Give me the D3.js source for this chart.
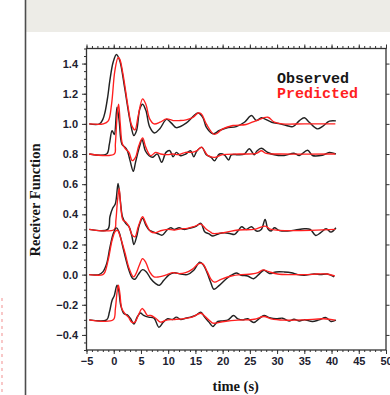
<!DOCTYPE html>
<html>
<head>
<meta charset="utf-8">
<script src="https://cdn.jsdelivr.net/npm/d3@7"></script>
<style>
  body { margin: 0; background: #fff; }
  svg { display: block; }
</style>
</head>
<body>
<div id="chart"></div>
<script>
// receiver functions, observed vs predicted, five stacked traces
const offsets = [1.0, 0.8, 0.3, 0.0, -0.3];
const xTicks = [-5, 0, 5, 10, 15, 20, 25, 30, 35, 40, 45, 50];
const yTicks = [-0.4, -0.2, 0.0, 0.2, 0.4, 0.6, 0.8, 1.0, 1.2, 1.4];
const legendLabels = ['Observed', 'Predicted'];

// [time (s), amplitude above the trace baseline]
const obs1 = [[-4.5,0],[-2.6,0],[-2.0,0.03],[-1.6,0.077],[-1.1,0.18],[-0.7,0.29],[-0.1,0.41],[0.5,0.46],[1.1,0.42],[2.0,0.24],[3.0,0.02],[3.7,-0.077],[4.2,-0.044],[4.8,0.10],[5.3,0.13],[5.9,0.09],[6.6,-0.02],[7.5,-0.06],[8.5,-0.03],[9.7,0.03],[10.6,0.005],[11.5,-0.025],[13.3,0.005],[14.6,0.05],[15.5,0.072],[16.4,0.04],[17.0,-0.022],[18.2,-0.066],[19.4,-0.044],[20.7,-0.027],[22.5,-0.018],[24.0,0.011],[25.3,0.055],[26.2,0.022],[27.1,0.04],[27.7,0.033],[29.0,0.011],[30.5,0],[31.7,-0.011],[32.9,-0.018],[34.1,0.022],[35.0,0.04],[35.9,0.011],[37.4,-0.033],[38.3,-0.018],[39.6,0.018],[40.8,0.02]];
const pred1 = [[-4.5,0],[-1.9,0],[-1.0,0.02],[-0.4,0.13],[0.2,0.35],[0.8,0.44],[1.1,0.43],[1.7,0.33],[2.6,0.12],[3.3,-0.01],[3.9,-0.04],[4.5,0.055],[5.3,0.166],[5.9,0.13],[6.6,0.033],[7.4,0],[8.5,0.011],[9.7,0.033],[10.9,0.022],[12.1,0.022],[13.3,0.027],[14.6,0.044],[15.5,0.072],[16.1,0.066],[17.0,0],[18.5,-0.07],[20.0,-0.033],[21.9,-0.011],[24.3,-0.004],[26.2,0.022],[28.3,0.044],[29.5,0.011],[31.0,0],[35.0,0],[40.7,0]];

const obs2 = [[-4.5,0],[-1.3,0],[-0.8,0.066],[-0.3,0.155],[0.1,0.13],[0.6,0.31],[1.0,0.22],[1.5,0.066],[2.1,0.044],[2.5,0.022],[3.0,-0.044],[3.6,-0.115],[4.0,-0.055],[4.7,0.044],[5.2,0.095],[5.8,0.022],[6.5,-0.011],[7.1,-0.022],[8.0,0],[8.8,-0.055],[9.6,0.011],[10.3,0.022],[10.9,-0.018],[11.5,0.011],[12.3,-0.011],[13.2,0],[14.1,0.022],[14.7,-0.018],[15.3,0.022],[16.2,0.044],[17.0,-0.005],[17.9,-0.022],[18.5,-0.045],[19.4,0],[20.3,-0.005],[21.1,-0.04],[21.6,-0.005],[22.8,-0.005],[24.0,0],[24.9,0.035],[25.8,-0.005],[26.3,0.02],[27.1,0.038],[28.3,0.01],[29.5,-0.005],[31.3,-0.01],[33.1,0.005],[34.1,-0.01],[35.6,0.025],[36.5,-0.01],[38.3,-0.008],[39.6,0.01],[40.8,0]];
const pred2 = [[-4.5,0],[0.1,0],[0.3,0.066],[0.7,0.29],[0.9,0.33],[1.2,0.2],[1.6,0.066],[2.2,0.033],[2.8,0.011],[3.4,-0.044],[4.0,-0.022],[4.6,0.055],[5.3,0.106],[5.9,0.044],[6.8,-0.011],[7.7,0.011],[8.6,0],[9.9,-0.004],[10.8,0],[12.0,-0.004],[13.2,0.011],[14.4,0.011],[15.3,0.022],[16.1,0.046],[17.3,-0.011],[18.5,-0.022],[20.0,-0.004],[23.1,0],[26.2,0.004],[27.1,0.022],[28.0,0.004],[30.5,0],[40.7,0]];

const obs3 = [[-4.5,0],[-1.1,0],[-0.7,0.084],[-0.2,0.14],[0.3,0.17],[0.8,0.305],[1.2,0.195],[1.6,0.084],[2.2,0.04],[2.8,0.018],[3.3,-0.038],[3.7,-0.10],[4.2,-0.049],[4.7,0.029],[5.3,0.073],[5.9,0.029],[6.5,-0.004],[7.1,-0.015],[8.0,-0.027],[8.9,-0.038],[9.9,0],[10.5,0.011],[11.1,0],[12.0,0.011],[12.9,0],[13.8,0.007],[15.0,0.018],[16.0,0.04],[16.7,-0.015],[17.5,-0.03],[18.2,-0.044],[19.4,-0.027],[20.3,-0.022],[21.3,-0.027],[22.2,-0.033],[22.8,-0.011],[23.5,0.018],[24.3,0],[25.3,0.018],[26.2,-0.011],[27.1,0],[27.8,0.066],[28.3,0.004],[28.9,-0.011],[29.5,0.011],[30.4,-0.007],[31.9,-0.011],[33.4,-0.004],[35.0,0.004],[36.1,0],[37.1,-0.04],[38.0,-0.022],[39.0,0.004],[39.9,-0.018],[40.8,0.011]];
const pred3 = [[-4.5,0],[0.1,0],[0.4,0.062],[0.7,0.195],[1.0,0.27],[1.3,0.15],[1.7,0.062],[2.2,0.05],[2.8,0.018],[3.4,-0.038],[3.9,-0.049],[4.5,0.018],[5.3,0.084],[5.9,0.04],[6.8,-0.015],[7.7,-0.022],[8.6,-0.009],[9.9,0],[11.1,-0.004],[12.3,0.004],[13.5,0.007],[14.7,0.018],[16.0,0.035],[16.9,0.004],[17.8,-0.018],[18.2,-0.027],[20.2,-0.022],[22.8,-0.004],[25.8,0],[27.8,0.022],[28.9,0],[40.7,0]];

const obs4 = [[-4.5,0],[-2.7,0],[-2.0,0.018],[-1.3,0.073],[-0.7,0.18],[-0.1,0.27],[0.5,0.31],[1.0,0.28],[1.6,0.195],[2.2,0.106],[2.8,0.029],[3.4,-0.022],[3.9,-0.031],[4.5,0],[5.3,0.033],[6.0,0.018],[6.8,-0.027],[7.7,-0.06],[8.4,-0.071],[9.2,-0.038],[10.2,0],[11.1,0.013],[12.3,0.004],[13.5,0],[14.7,0.029],[15.8,0.083],[16.5,0.062],[17.2,0.007],[17.8,-0.05],[18.4,-0.097],[19.4,-0.071],[20.7,-0.027],[21.6,-0.004],[22.5,0.011],[23.4,-0.004],[24.6,-0.009],[25.7,-0.027],[26.8,0.007],[27.6,0.029],[28.6,0.007],[29.8,0.018],[31.3,0.018],[32.6,0.013],[33.8,0],[35.0,-0.004],[36.8,0.004],[38.0,0],[39.2,0.004],[40.5,-0.015]];
const pred4 = [[-4.5,0],[-2.0,0],[-1.6,0.018],[-0.9,0.117],[-0.3,0.228],[0.3,0.288],[0.7,0.294],[1.3,0.24],[2.1,0.14],[2.8,0.044],[3.6,-0.015],[4.0,0],[4.7,0.062],[5.3,0.106],[5.9,0.08],[6.6,0.018],[7.4,-0.015],[8.3,-0.015],[9.5,-0.004],[10.8,0.013],[12.0,0.007],[13.2,0.013],[14.4,0.035],[15.6,0.073],[16.3,0.073],[17.2,0.018],[17.8,-0.027],[18.5,-0.05],[19.7,-0.031],[21.6,-0.009],[23.4,0],[25.3,0.004],[26.5,0.013],[27.4,0.031],[28.6,0.018],[30.1,0.004],[32.6,0],[35.0,0],[37.4,0.004],[39.2,0.004],[40.6,-0.009]];

const obs5 = [[-4.5,0],[-1.3,0],[-0.8,0.05],[-0.3,0.13],[0.1,0.16],[0.6,0.23],[0.9,0.2],[1.3,0.095],[1.9,0.04],[2.5,0.033],[3.1,0.007],[3.7,-0.027],[4.3,0.018],[4.9,0.045],[5.5,0.03],[6.4,0.018],[7.4,0.011],[8.3,-0.049],[9.1,-0.015],[9.9,0.007],[10.8,0.002],[11.5,0.018],[12.3,0.002],[13.2,0.011],[14.1,0.018],[15.0,0.029],[16.0,0.05],[16.7,0.018],[17.5,-0.015],[18.2,-0.044],[19.1,-0.011],[20.0,-0.007],[21.0,0],[22.0,0.029],[22.8,0.007],[23.7,0],[24.6,0.007],[25.7,-0.018],[26.8,0.011],[27.6,0.029],[28.6,0.015],[29.8,0.007],[31.0,0.011],[32.2,-0.007],[33.1,0.004],[34.1,-0.007],[35.0,0],[36.5,-0.011],[37.7,0],[39.0,0.015],[39.9,-0.011],[40.8,-0.002]];
const pred5 = [[-4.5,0],[-0.1,0],[0.3,0.073],[0.6,0.18],[0.85,0.23],[1.1,0.183],[1.5,0.073],[2.1,0.04],[2.7,0.018],[3.3,-0.015],[3.9,-0.015],[4.5,0.029],[5.2,0.075],[5.6,0.062],[6.2,0.029],[6.8,0.029],[7.7,0.011],[8.6,-0.015],[9.5,-0.004],[10.8,0.002],[12.6,0.007],[14.4,0.018],[16.0,0.044],[16.9,0.018],[17.8,-0.011],[18.2,-0.022],[20.3,-0.011],[22.8,-0.002],[25.8,0.004],[27.6,0.022],[28.9,0.007],[31.3,-0.002],[35.0,0],[38.6,0.007],[40.7,-0.002]];

const observed = [obs1, obs2, obs3, obs4, obs5];
const predicted = [pred1, pred2, pred3, pred4, pred5];

const width = 390;
const height = 395;
const margin = { top: 48.5, right: 4, bottom: 45, left: 86.5 };

const svg = d3.select('#chart').append('svg').attr('width', width).attr('height', height);

// page bits around the figure
svg.append('rect').attr('x', 26).attr('y', 0).attr('width', width - 26).attr('height', 32).attr('fill', '#edece7');
svg.append('line').attr('x1', 25.5).attr('x2', 25.5).attr('y1', 0).attr('y2', height)
  .attr('stroke', '#4d4d4d').attr('stroke-width', 1.6);
svg.append('line').attr('x1', 2).attr('x2', 2).attr('y1', 298).attr('y2', height)
  .attr('stroke', '#f3a3a3').attr('stroke-width', 1.2).attr('stroke-dasharray', '3,4');

const x = d3.scaleLinear().domain([-5, 50]).range([margin.left, width - margin.right]);
const y = d3.scaleLinear().domain([-0.5, 1.5]).range([height - margin.bottom, margin.top]);

const fmt = d3.format('.1f');
const tickFont = (g) => g.selectAll('text')
  .attr('font-family', '"Liberation Sans", Arial, sans-serif')
  .attr('font-size', 11).attr('font-weight', 'bold').attr('fill', '#1d2130');
const tidy = (g) => {
  g.select('.domain').remove();
  g.selectAll('line').attr('stroke', '#333').attr('stroke-width', 1);
};

const bottom = height - margin.bottom;
const right = width - margin.right;
const xMinor = d3.range(-5, 51, 1);
const yMinor = d3.range(-0.5, 1.501, 0.05);

// bottom axis
svg.append('g').attr('transform', `translate(0,${bottom})`)
  .call(d3.axisBottom(x).tickValues(xMinor).tickSize(2).tickFormat('')).call(tidy);
svg.append('g').attr('transform', `translate(0,${bottom})`)
  .call(d3.axisBottom(x).tickValues(xTicks).tickSize(4).tickPadding(3).tickFormat(d3.format('d')))
  .call(tidy).call(tickFont);

// top axis
svg.append('g').attr('transform', `translate(0,${margin.top})`)
  .call(d3.axisTop(x).tickValues(xMinor).tickSize(2.5).tickFormat('')).call(tidy);
svg.append('g').attr('transform', `translate(0,${margin.top})`)
  .call(d3.axisTop(x).tickValues(xTicks).tickSize(4).tickFormat('')).call(tidy);

// left axis
svg.append('g').attr('transform', `translate(${margin.left},0)`)
  .call(d3.axisLeft(y).tickValues(yMinor).tickSize(2.5).tickFormat('')).call(tidy);
svg.append('g').attr('transform', `translate(${margin.left},0)`)
  .call(d3.axisLeft(y).tickValues(yTicks).tickSize(4.5).tickPadding(4).tickFormat(fmt))
  .call(tidy).call(tickFont);

// right axis
svg.append('g').attr('transform', `translate(${right},0)`)
  .call(d3.axisRight(y).tickValues(yTicks).tickSize(3.5).tickFormat('')).call(tidy);

// frame
svg.append('rect')
  .attr('x', margin.left).attr('y', margin.top)
  .attr('width', right - margin.left).attr('height', bottom - margin.top)
  .attr('fill', 'none').attr('stroke', '#333').attr('stroke-width', 1.3);

const line = (off) => d3.line()
  .x((d) => x(d[0]))
  .y((d) => y(off + d[1]))
  .curve(d3.curveCatmullRom.alpha(0.5));

const traces = svg.append('g');
offsets.forEach((off, i) => {
  traces.append('path').datum(observed[i]).attr('d', line(off))
    .attr('fill', 'none').attr('stroke', '#222').attr('stroke-width', 1.45).attr('stroke-linejoin', 'round');
  traces.append('path').datum(predicted[i]).attr('d', line(off))
    .attr('fill', 'none').attr('stroke', '#ff1f1f').attr('stroke-width', 1.35).attr('stroke-linejoin', 'round');
});

// legend
svg.selectAll('.legend')
  .data(legendLabels)
  .enter()
  .append('text')
  .attr('class', 'legend')
  .attr('x', 277)
  .attr('y', (d, i) => 82.5 + i * 15)
  .attr('font-family', '"Liberation Mono", "Courier New", monospace')
  .attr('font-size', 15)
  .attr('font-weight', 'bold')
  .attr('fill', (d, i) => (i === 0 ? '#161616' : '#ff1f1f'))
  .text((d) => d);

// axis titles
svg.append('text')
  .attr('x', (margin.left + right) / 2 - 0.5)
  .attr('y', 391)
  .attr('text-anchor', 'middle')
  .attr('font-family', '"Liberation Serif", "Times New Roman", serif')
  .attr('font-size', 14.5)
  .attr('font-weight', 'bold')
  .attr('fill', '#161616')
  .text('time (s)');

svg.append('text')
  .attr('transform', 'translate(39.5,200) rotate(-90)')
  .attr('text-anchor', 'middle')
  .attr('font-family', '"Liberation Serif", "Times New Roman", serif')
  .attr('font-size', 14.5)
  .attr('font-weight', 'bold')
  .attr('fill', '#161616')
  .text('Receiver Function');
</script>
</body>
</html>
